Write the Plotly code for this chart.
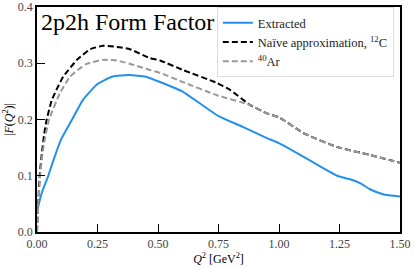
import plotly.graph_objects as go

q_ext = [0, 0.02, 0.045, 0.07, 0.1, 0.145, 0.19, 0.25, 0.31, 0.38, 0.45, 0.5, 0.6, 0.75, 0.85, 0.95, 1.0, 1.1, 1.24, 1.3, 1.335, 1.376, 1.43, 1.5]
f_ext = [0.037, 0.07, 0.098, 0.13, 0.165, 0.2, 0.235, 0.263, 0.276, 0.279, 0.276, 0.268, 0.25, 0.206, 0.187, 0.167, 0.158, 0.134, 0.1, 0.093, 0.087, 0.076, 0.067, 0.063]

q_c12 = [0, 0.005, 0.012, 0.02, 0.03, 0.04, 0.06, 0.074, 0.108, 0.165, 0.22, 0.273, 0.33, 0.384, 0.467, 0.508, 0.603, 0.744, 0.8, 0.88, 0.95, 1.0, 1.1, 1.24, 1.376, 1.5]
f_c12 = [0.0, 0.05, 0.105, 0.14, 0.175, 0.2, 0.233, 0.247, 0.276, 0.306, 0.325, 0.331, 0.329, 0.325, 0.309, 0.305, 0.288, 0.265, 0.252, 0.226, 0.211, 0.204, 0.176, 0.151, 0.137, 0.123]

q_ar40 = [0, 0.005, 0.012, 0.02, 0.03, 0.05, 0.095, 0.136, 0.2, 0.27, 0.33, 0.4, 0.467, 0.508, 0.6, 0.744, 0.88, 0.95, 1.0, 1.1, 1.24, 1.376, 1.5]
f_ar40 = [0.0, 0.045, 0.095, 0.13, 0.16, 0.2, 0.247, 0.276, 0.298, 0.306, 0.305, 0.297, 0.288, 0.283, 0.267, 0.243, 0.226, 0.211, 0.204, 0.176, 0.151, 0.137, 0.123]

x_ticks = [0.0, 0.25, 0.5, 0.75, 1.0, 1.25, 1.5]
x_tick_labels = ["0.00", "0.25", "0.50", "0.75", "1.00", "1.25", "1.50"]
y_ticks = [0.0, 0.1, 0.2, 0.3, 0.4]
y_tick_labels = ["0.0", "0.1", "0.2", "0.3", "0.4"]

FONT = "Liberation Serif"

fig = go.Figure()
fig.add_trace(go.Scatter(x=q_ext, y=f_ext, mode="lines", name="Extracted",
                         line=dict(color="#2390f0", width=2, shape="spline", smoothing=0.5)))
fig.add_trace(go.Scatter(x=q_c12, y=f_c12, mode="lines", name="Naïve approximation, <sup>12</sup>C",
                         line=dict(color="black", width=2, dash="6px,3px", shape="spline", smoothing=0.4)))
fig.add_trace(go.Scatter(x=q_ar40, y=f_ar40, mode="lines", name="<sup>40</sup>Ar",
                         line=dict(color="#999999", width=2, dash="6px,3px", shape="spline", smoothing=0.4)))

axis_common = dict(showline=True, linecolor="black", linewidth=1.5, mirror=True,
                   ticks="inside", ticklen=8, tickwidth=1.2, tickcolor="black",
                   showgrid=False, zeroline=False, automargin=False,
                   tickfont=dict(family=FONT, size=12, color="#444444"))

fig.update_layout(
    width=415, height=269,
    margin=dict(l=37, r=15, t=7, b=37),
    plot_bgcolor="white", paper_bgcolor="white",
    font=dict(family=FONT, color="black"),
    showlegend=True,
    legend=dict(x=0.983, y=1.0, xanchor="right", yanchor="top",
                bgcolor="rgba(255,255,255,0.8)", bordercolor="#dddddd", borderwidth=1,
                font=dict(family=FONT, size=12.5, color="#222222"),
                tracegroupgap=0, itemwidth=30),
    xaxis=dict(range=[0, 1.5], tickvals=x_ticks, ticktext=x_tick_labels,
               title=dict(text="<i>Q</i><sup>2</sup> [GeV<sup>2</sup>]", font=dict(family=FONT, size=12), standoff=2),
               **axis_common),
    yaxis=dict(range=[0, 0.4], tickvals=y_ticks, ticktext=y_tick_labels,
               title=dict(text="|<i>F</i>(<i>Q</i><sup>2</sup>)|", font=dict(family=FONT, size=12), standoff=2),
               **axis_common),
)
fig.add_annotation(text="2p2h Form Factor", xref="paper", yref="paper", x=0.005, y=1.0,
                   xanchor="left", yanchor="top", showarrow=False,
                   font=dict(family=FONT, size=24, color="black"))

fig.write_html("out.html", config={"displayModeBar": False},
               post_script="document.body.style.margin='0';document.body.style.overflow='hidden';")
